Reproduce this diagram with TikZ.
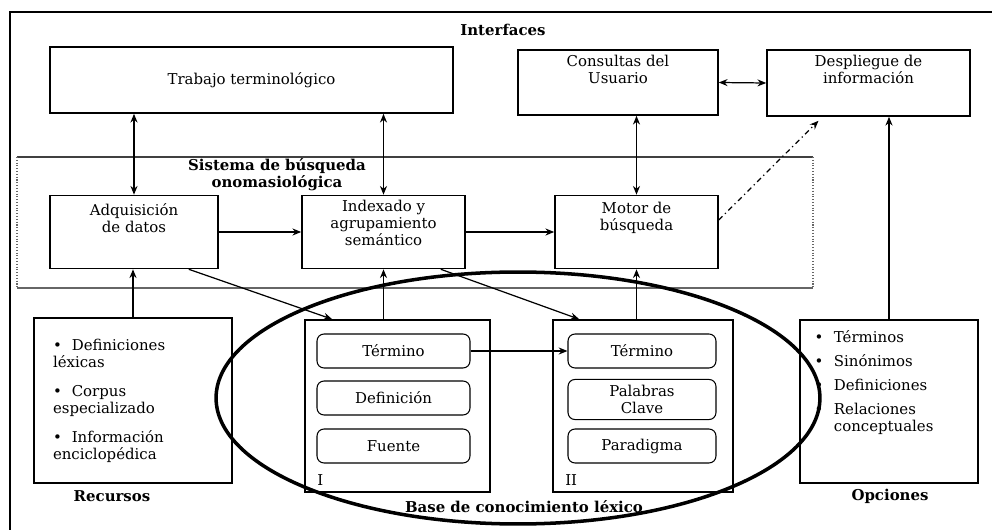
\documentclass[tikz,border=0pt]{standalone}
\usepackage{fontspec}
\setmainfont{DejaVu Serif}
\usetikzlibrary{positioning,calc,arrows.meta}

\begin{document}
\begin{tikzpicture}[x=0.02cm,y=-0.02cm,
		font=\fontsize{8.5}{9.6}\selectfont,
		caja/.style={draw=black,line width=0.9pt,inner sep=0pt},
		campo/.style={draw=black,line width=0.6pt,rounded corners=4pt,minimum width=#1,minimum height=0.68cm,align=center},
		texto/.style={inner sep=1pt,align=center},
		titulo/.style={inner sep=1pt,align=center,font=\fontsize{8.5}{9.6}\selectfont\bfseries},
		flecha/.style={-{Stealth[length=5pt,width=4pt]},line width=0.7pt},
		doble/.style={{Stealth[length=5pt,width=4pt]}-{Stealth[length=5pt,width=4pt]},line width=0.7pt}]
		\useasboundingbox (0,0) rectangle (1005,530);
		% marco
		\draw[line width=1.6pt] (10,530) -- (10,11);
		\draw[line width=1.2pt] (9,12) -- (992,12);
		\node[titulo] (interfaces) at (503,30) {Interfaces};
		
		% interfaces
		\node[caja,minimum width=8.06cm,minimum height=1.32cm] (trabajo) at (251.5,80) {Trabajo terminológico};
		\node[caja,minimum width=4.0cm,minimum height=1.3cm] (consultas) at (618,82.5) {};
		\node[texto,below=2pt of consultas.north] (tconsultas) {Consultas del\\Usuario};
		\node[caja,minimum width=4.06cm,minimum height=1.32cm] (despliegue) at (868.5,83) {};
		\node[texto,below=2pt of despliegue.north] (tdespliegue) {Despliegue de\\información};
		
		% sistema de busqueda
		\draw[line width=0.6pt,black!75] (17,157) -- (813,157);
		\draw[line width=0.6pt,black!60] (17,288) -- (813,288);
		\draw[line width=0.6pt,black!60,densely dotted] (17,157) -- (17,288);
		\draw[line width=0.6pt,black!60,densely dotted] (813,157) -- (813,288);
		\node[titulo] (sistema) at (277,175) {Sistema de búsqueda\\onomasiológica};
		\node[caja,minimum width=3.36cm,minimum height=1.46cm] (adq) at (134,232) {};
		\node[texto,below=4pt of adq.north] (tadq) {Adquisición\\de datos};
		\node[caja,minimum width=3.26cm,minimum height=1.46cm] (index) at (383.5,232) {};
		\node[texto,below=2pt of index.north] (tindex) {Indexado y\\agrupamiento\\semántico};
		\node[caja,minimum width=3.26cm,minimum height=1.46cm] (motor) at (636.5,232) {};
		\node[texto,below=3pt of motor.north] (tmotor) {Motor de\\búsqueda};
		
		% recursos
		\node[caja,minimum width=3.96cm,minimum height=3.3cm,text width=3.2cm,align=left] (recursos) at (133,400.5)
			{\textbullet\ \ Definiciones\\léxicas\\[7pt]\textbullet\ \ Corpus\\especializado\\[7pt]\textbullet\ \ Información\\enciclopédica};
		\node[titulo] (trecursos) at (112,496) {Recursos};
		
		% base de conocimiento
		\node[caja,minimum width=3.7cm,minimum height=3.44cm] (baseI) at (397.5,406) {};
		\node[campo=3.06cm] (termI) at (393.5,351) {Término};
		\node[campo=3.06cm] (defI) at (393.5,398) {Definición};
		\node[campo=3.06cm] (fuenteI) at (393.5,446) {Fuente};
		\node[texto,anchor=south west] (numI) at ([xshift=0.22cm,yshift=0.1cm]baseI.south west) {I};
		\node[caja,minimum width=3.6cm,minimum height=3.44cm] (baseII) at (643,406) {};
		\node[campo=2.96cm] (termII) at (642,351) {Término};
		\node[campo=2.96cm,minimum height=0.78cm] (palabras) at (642,399.5) {Palabras\\Clave};
		\node[campo=2.96cm] (paradigma) at (642,446) {Paradigma};
		\node[texto,anchor=south west] (numII) at ([xshift=0.22cm,yshift=0.1cm]baseII.south west) {II};
		\draw[line width=2pt] (518,398) ellipse [x radius=6.04cm, y radius=2.52cm];
		\node[titulo] (tbase) at (524,507) {Base de conocimiento léxico};
		
		% opciones
		\node[caja,minimum width=3.56cm,minimum height=3.26cm] (opciones) at (889,401.5) {};
		\node[inner sep=0pt,anchor=north west] (lopciones) at ([xshift=0.3cm,yshift=-0.22cm]opciones.north west)
			{\begin{tabular}{@{}c@{\hspace{6pt}}l@{}}
				\textbullet & Términos\\[4pt]
				\textbullet & Sinónimos\\[4pt]
				\textbullet & Definiciones\\[4pt]
				\textbullet & Relaciones\\
				& conceptuales
			\end{tabular}};
		\node[titulo] (topciones) at (890,496) {Opciones};
		
		% conexiones
		\draw[doble] (adq.north) -- (adq.north |- trabajo.south);
		\draw[doble] (index.north) -- (index.north |- trabajo.south);
		\draw[doble] (motor.north) -- (motor.north |- consultas.south);
		\draw[doble] (consultas.east) -- (despliegue.west);
		\draw[flecha] (adq.east) -- (index.west |- adq.east);
		\draw[flecha] (index.east) -- (motor.west);
		\draw[flecha,dash dot] ([yshift=0.24cm]motor.east) -- ($(despliegue.south)+(-50,4)$);
		\draw[flecha] (opciones.north) -- (opciones.north |- despliegue.south);
		\draw[flecha] (recursos.north) -- (recursos.north |- adq.south);
		\draw[flecha] (index.south |- baseI.north) -- (index.south);
		\draw[flecha] (motor.south |- baseII.north) -- (motor.south);
		\draw[flecha] ([xshift=-0.6cm]adq.south east) -- ([xshift=0.56cm]baseI.north west);
		\draw[flecha] ([xshift=-0.5cm]index.south east) -- ([xshift=0.54cm]baseII.north west);
		\draw[flecha] (termI.east) -- (termII.west);
	\end{tikzpicture}
\end{document}
